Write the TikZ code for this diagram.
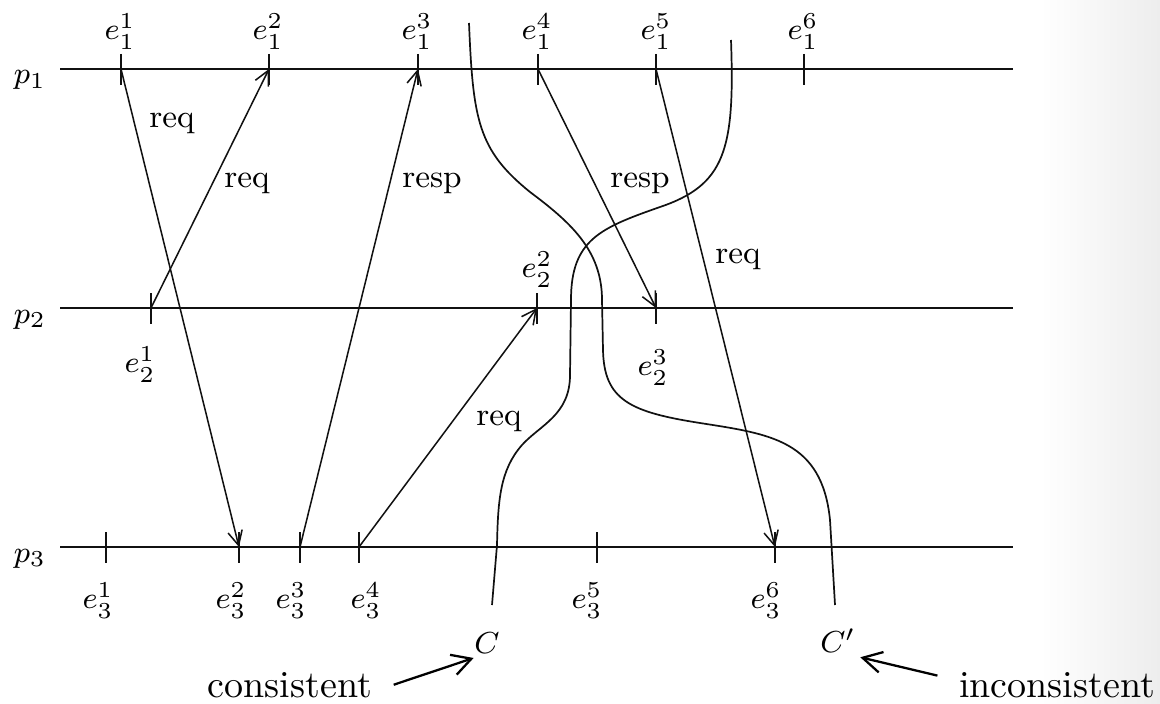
\documentclass[tikz,border=0pt]{standalone}
\usepackage{tikz}
\usetikzlibrary{arrows.meta}
\definecolor{Rule}{HTML}{111111}
\definecolor{Fade}{HTML}{EDEDED}

\begin{document}
\begin{tikzpicture}[x=0.263pt,y=-0.263pt,
    procln/.style={line width=0.7pt,Rule},
    tickln/.style={line width=0.5pt,Rule},
    msg/.style={line width=0.4pt,Rule,-{Straight Barb[length=3.8pt,width=3.8pt]}},
    cutln/.style={line width=0.45pt,Rule},
    evlab/.style={font=\fontsize{8.5}{10}\selectfont,inner sep=1pt},
    msglab/.style={font=\fontsize{8.5}{10}\selectfont,anchor=base,inner sep=0pt},
    proclab/.style={font=\fontsize{8.5}{10}\selectfont,anchor=base,inner sep=0pt},
    pointer/.style={line width=0.6pt,-{Straight Barb[length=5pt,width=5.5pt]}}]
    \useasboundingbox (0,0) rectangle (1160,704);
    \shade[left color=white,right color=Fade] (1040,0) rectangle (1160,704);

    \coordinate (p1s) at (60,69);  \coordinate (p1e) at (1013,69);
    \coordinate (p2s) at (60,308); \coordinate (p2e) at (1013,308);
    \coordinate (p3s) at (60,547); \coordinate (p3e) at (1013,547);
    \draw[procln] (p1s)--(p1e);
    \draw[procln] (p2s)--(p2e);
    \draw[procln] (p3s)--(p3e);
    \node[proclab] (p1) at (30,84) {$p_1$};
    \node[proclab] (p2) at (30,323) {$p_2$};
    \node[proclab] (p3) at (30,562) {$p_3$};

    \coordinate (e11) at (121,69);  \coordinate (e12) at (269,69);
    \coordinate (e13) at (418,69);  \coordinate (e14) at (538,69);
    \coordinate (e15) at (656,69);  \coordinate (e16) at (804,69);
    \coordinate (e21) at (151,308); \coordinate (e22) at (537,308);
    \coordinate (e23) at (656,308);
    \coordinate (e31) at (106,547); \coordinate (e32) at (239,547);
    \coordinate (e33) at (300,547); \coordinate (e34) at (359,547);
    \coordinate (e35) at (597,547); \coordinate (e36) at (775,547);
    \foreach \ev in {e11,e12,e13,e14,e15,e16,e21,e22,e23,e31,e32,e33,e34,e35,e36}
      \draw[tickln] (\ev) ++(0,-15) -- ++(0,31);

    \node[evlab] (l11) at (120,32) {$e_1^1$};
    \node[evlab] (l12) at (268,32) {$e_1^2$};
    \node[evlab] (l13) at (417,32) {$e_1^3$};
    \node[evlab] (l14) at (537,32) {$e_1^4$};
    \node[evlab] (l15) at (656,32) {$e_1^5$};
    \node[evlab] (l16) at (803,32) {$e_1^6$};
    \node[evlab] (l21) at (140,365) {$e_2^1$};
    \node[evlab] (l22) at (537,270) {$e_2^2$};
    \node[evlab] (l23) at (653,368) {$e_2^3$};
    \node[evlab] (l31) at (98,601) {$e_3^1$};
    \node[evlab] (l32) at (231,601) {$e_3^2$};
    \node[evlab] (l33) at (291,601) {$e_3^3$};
    \node[evlab] (l34) at (366,601) {$e_3^4$};
    \node[evlab] (l35) at (587,601) {$e_3^5$};
    \node[evlab] (l36) at (766,601) {$e_3^6$};

    \draw[msg] (e11)--(e32);
    \draw[msg] (e21)--(e12);
    \draw[msg] (e33)--(e13);
    \draw[msg] (e34)--(e22);
    \draw[msg] (e14)--(e23);
    \draw[msg] (e15)--(e36);
    \node[msglab] (m1) at (172,128) {req};
    \node[msglab] (m2) at (247,188) {req};
    \node[msglab] (m3) at (432,188) {resp};
    \node[msglab] (m4) at (499,425) {req};
    \node[msglab] (m5) at (640,188) {resp};
    \node[msglab] (m6) at (738,263) {req};

    \draw[cutln] (731,40) .. controls (735,150) and (725,185) .. (660,207)
      .. controls (600,228) and (571,240) .. (571,300) -- (570,375)
      .. controls (570,415) and (540,425) .. (522,445)
      .. controls (500,470) and (498,500) .. (497,545) -- (492,605);
    \draw[cutln] (469,23) .. controls (473,120) and (478,150) .. (530,192)
      .. controls (570,222) and (602,250) .. (602,300) -- (603,350)
      .. controls (604,400) and (630,412) .. (700,423)
      .. controls (770,434) and (822,440) .. (830,520) -- (835,605);

    \node[evlab] (cC) at (487,643) {$C$};
    \node[evlab] (cCp) at (838,641) {$C'$};
    \node[font=\fontsize{10}{12}\selectfont,anchor=base,inner sep=1pt] (cons) at (290,697) {consistent};
    \node[font=\fontsize{10}{12}\selectfont,anchor=base,inner sep=1pt] (incons) at (1057,697) {inconsistent};
    \draw[pointer] ([xshift=4.5pt]cons.east) -- ([xshift=1pt]cC.south west);
    \draw[pointer] ([xshift=-4.5pt,yshift=2.4pt]incons.west) -- (cCp.south east);
  \end{tikzpicture}
\end{document}
